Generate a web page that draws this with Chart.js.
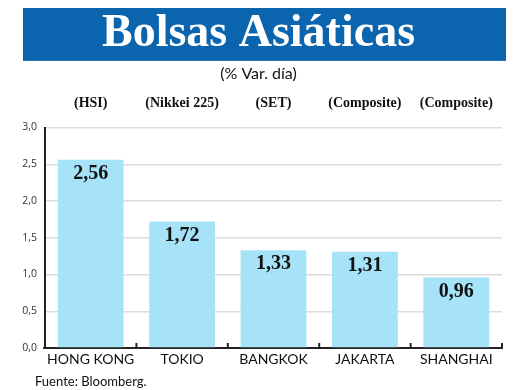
<!DOCTYPE html>
<html>
<head>
<meta charset="utf-8">
<script src="https://cdn.jsdelivr.net/npm/chart.js@4.4.1/dist/chart.umd.min.js"></script>
<style>
  html, body { margin: 0; padding: 0; background: #fff; }
</style>
</head>
<body>
<canvas id="myChart" width="520" height="390"></canvas>
<script>
const ctx = document.getElementById("myChart");

const cities = ["HONG KONG", "TOKIO", "BANGKOK", "JAKARTA", "SHANGHAI"];
const indices = ["(HSI)", "(Nikkei 225)", "(SET)", "(Composite)", "(Composite)"];
const changes = [2.56, 1.72, 1.33, 1.31, 0.96];
const yTicks = [0, 0.5, 1, 1.5, 2, 2.5, 3];

const comma = (v, d) => v.toFixed(d).replace(".", ",");

// blue banner behind the title
const banner = {
  id: "banner",
  beforeDraw(chart) {
    const t = chart.titleBlock;
    if (!t) return;
    const c = chart.ctx;
    c.save();
    c.fillStyle = "#0a64ae";
    c.fillRect(23, t.top, 483, t.height);
    c.restore();
  },
};

// value labels inside the bars, tick marks pointing up, source note
const extras = {
  id: "extras",
  afterDatasetsDraw(chart) {
    const c = chart.ctx;
    const meta = chart.getDatasetMeta(0);
    c.save();
    c.font = "bold 20px 'Liberation Serif'";
    c.fillStyle = "#111";
    c.textAlign = "center";
    c.textBaseline = "middle";
    meta.data.forEach((bar, i) => {
      c.fillText(comma(changes[i], 2), bar.x, bar.y + 14);
    });

    const x = chart.scales.x;
    const { bottom, left, right } = chart.chartArea;
    c.strokeStyle = "#222";
    c.lineWidth = 2;
    c.beginPath();
    c.moveTo(left - 2, bottom);
    c.lineTo(left, bottom);
    c.stroke();
    for (let i = 0; i < cities.length; i++) {
      const px = i < cities.length - 1
        ? (x.getPixelForValue(i) + x.getPixelForValue(i + 1)) / 2
        : right;
      c.beginPath();
      c.moveTo(px, bottom);
      c.lineTo(px, bottom - 5);
      c.stroke();
    }

    c.font = "13px Lato";
    c.fillStyle = "#111";
    c.textAlign = "left";
    c.fillText("Fuente: Bloomberg.", 35, 382);
    c.restore();
  },
};

new Chart(ctx, {
  type: "bar",
  data: {
    labels: cities,
    datasets: [
      {
        data: changes,
        backgroundColor: "#a6e3f8",
        barPercentage: 0.72,
        categoryPercentage: 1,
        xAxisID: "x",
      },
    ],
  },
  options: {
    responsive: false,
    animation: false,
    layout: { padding: { top: 8, left: 15, right: 18, bottom: 22 } },
    plugins: {
      legend: { display: false },
      tooltip: { enabled: false },
      title: {
        display: true,
        text: "Bolsas Asiáticas",
        color: "#fff",
        font: { family: "'Liberation Serif'", size: 46, weight: "bold", lineHeight: 1.15 },
        padding: { top: 0, bottom: 0 },
      },
      subtitle: {
        display: true,
        text: "(% Var. día)",
        color: "#111",
        font: { family: "Lato", size: 16, lineHeight: 1.1 },
        padding: { top: 4, bottom: 12 },
      },
    },
    scales: {
      x: {
        type: "category",
        position: "bottom",
        afterFit: (s) => { s.height = 20; },
        grid: { display: false, drawTicks: false, offset: true },
        border: { display: true, color: "#222", width: 2 },
        ticks: {
          color: "#111",
          font: { family: "Lato", size: 14 },
          padding: 3,
          maxRotation: 0,
        },
      },
      x2: {
        type: "category",
        position: "top",
        labels: indices,
        offset: true,
        afterFit: (s) => { s.height = 33; },
        grid: { display: false, drawTicks: false },
        border: { display: false },
        ticks: {
          color: "#111",
          font: { family: "'Liberation Serif'", size: 14, weight: "bold" },
          padding: 16,
          maxRotation: 0,
        },
      },
      y: {
        min: 0,
        max: 3,
        afterFit: (s) => { s.width = 30; },
        afterBuildTicks: (s) => { s.ticks = yTicks.map((v) => ({ value: v })); },
        grid: { color: "#dcdcdc", lineWidth: 1.5, drawTicks: false },
        border: { display: true, color: "#222", width: 2 },
        ticks: {
          color: "#333",
          font: { family: "'Open Sans'", size: 10.5 },
          padding: 8,
          callback: (v) => comma(v, 1),
        },
      },
    },
  },
  plugins: [banner, extras],
});
</script>
</body>
</html>
